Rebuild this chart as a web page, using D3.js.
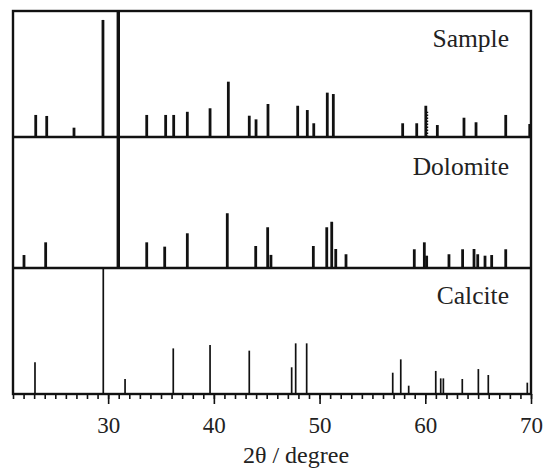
<!DOCTYPE html>
<html>
<head>
<meta charset="utf-8">
<script src="https://cdn.jsdelivr.net/npm/d3@7"></script>
<style>
  html, body { margin: 0; padding: 0; background: #fff; }
  svg { display: block; }
  svg text { font-family: 'Liberation Serif', 'DejaVu Serif', serif; fill: #222; }
</style>
</head>
<body>
<svg id="chart" width="546" height="469" font-family="Liberation Serif"></svg>
<script>
// Stick patterns: 2θ position (degree) and relative intensity (% of panel height)
const samplePos = [23.15, 24.19, 26.77, 29.51, 30.96, 33.65, 35.44, 36.2, 37.49, 39.64, 41.37, 43.35, 43.99, 45.12,
                   47.93, 48.84, 49.45, 50.73, 51.3, 57.86, 59.19, 60.05, 61.14, 63.66, 64.8, 67.61, 69.88];
const sampleInt = [17.5, 16.7, 7.4, 92.9, 100, 17.5, 17.5, 17.5, 20, 22.8, 43.9, 16.9, 14, 26.2,
                   24.8, 21.4, 10.9, 35.2, 34.1, 10.9, 10.9, 24.8, 9.5, 15.3, 11.7, 17.5, 10.3];
// overlapping reflections beside the 60° stick of the sample
const sampleShoulderPos = [60.2];
const sampleShoulderInt = [20];

const dolomitePos = [22.04, 24.09, 30.96, 33.65, 35.35, 37.49, 41.27, 43.96, 45.09, 45.4,
                     49.41, 50.68, 51.15, 51.53, 52.5, 58.96, 59.91, 60.13, 62.24, 63.53, 64.61, 64.96, 65.65, 66.28, 67.61];
const dolomiteInt = [9.9, 19.6, 100, 19.6, 16.3, 26.5, 41.8, 16.8, 31.1, 10,
                     16.8, 31.1, 35.3, 14.5, 10.5, 14.3, 19.6, 9.4, 10.5, 14.3, 14.5, 10.5, 9.4, 9.9, 14.3];

const calcitePos = [23.08, 29.54, 31.6, 36.16, 39.64, 43.35, 47.36, 47.74, 48.78, 56.92, 57.68, 58.43,
                    60.99, 61.46, 61.71, 63.5, 65.02, 65.96, 69.65];
const calciteInt = [25.1, 100, 11.9, 36.2, 38.9, 34.4, 21.2, 40.2, 40.2, 16.9, 27.5, 6.6,
                    18.3, 12.4, 12.4, 11.9, 19.8, 15.1, 9];

const panelNames = ["Sample", "Dolomite", "Calcite"];
const majorTicks = [30, 40, 50, 60, 70];
const xTitle = "2θ / degree";

const svg = d3.select("#chart");
const plotLeft = 13, plotRight = 531, plotTop = 11, plotBottom = 394;
const panelBottoms = [137, 268, plotBottom];
const panelTops = [plotTop, 137, 268];

const x = d3.scaleLinear().domain([21, 70]).range([plotLeft, plotRight]);

svg.append("defs").append("clipPath").attr("id", "plotClip")
  .append("rect").attr("x", plotLeft).attr("y", plotTop)
  .attr("width", plotRight - plotLeft).attr("height", plotBottom - plotTop);

const panels = [
  { pos: samplePos, val: sampleInt, w: 2.8 },
  { pos: dolomitePos, val: dolomiteInt, w: 2.8 },
  { pos: calcitePos, val: calciteInt, w: 1.7 }
];

const plot = svg.append("g").attr("clip-path", "url(#plotClip)");

panels.forEach((p, i) => {
  const y = d3.scaleLinear().domain([0, 100]).range([panelBottoms[i], panelTops[i]]);
  p.y = y;
  const data = p.pos.map((d, k) => ({ t: d, v: p.val[k] }));
  plot.append("g").selectAll("line").data(data).join("line")
    .attr("x1", d => x(d.t)).attr("x2", d => x(d.t))
    .attr("y1", y(0)).attr("y2", d => y(d.v))
    .attr("stroke", "#111")
    .attr("stroke-width", d => d.v >= 100 && i < 2 ? 3.4 : p.w);
});

// shoulder reflections drawn as a broken stick
{
  const y = panels[0].y;
  const data = sampleShoulderPos.map((d, k) => ({ t: d, v: sampleShoulderInt[k] }));
  plot.append("g").selectAll("line").data(data).join("line")
    .attr("x1", d => x(d.t)).attr("x2", d => x(d.t))
    .attr("y1", y(0)).attr("y2", d => y(d.v))
    .attr("stroke", "#111").attr("stroke-width", 1.6)
    .attr("stroke-dasharray", "1.5,1.5");
}

// panel separators and frame
svg.append("g").selectAll("line").data(panelBottoms.slice(0, 2)).join("line")
  .attr("x1", plotLeft).attr("x2", plotRight).attr("y1", d => d).attr("y2", d => d)
  .attr("stroke", "#111").attr("stroke-width", 2.6);

svg.append("rect")
  .attr("x", plotLeft).attr("y", plotTop)
  .attr("width", plotRight - plotLeft).attr("height", plotBottom - plotTop)
  .attr("fill", "none").attr("stroke", "#111").attr("stroke-width", 2.4);

// panel names
svg.append("g").selectAll("text").data(panelNames).join("text")
  .attr("x", 509)
  .attr("y", (d, i) => [46.5, 175, 303.5][i])
  .attr("text-anchor", "end")
  .attr("font-size", 25.5)
  .text(d => d);

// bottom axis: minor ticks every degree, major every ten
const minorAxis = d3.axisBottom(x).tickValues(d3.range(21, 71)).tickSize(5).tickFormat("");
const majorAxis = d3.axisBottom(x).tickValues(majorTicks).tickSize(10).tickPadding(13).tickFormat(d3.format("d"));

const gMinor = svg.append("g").attr("transform", `translate(0,${plotBottom})`).call(minorAxis);
gMinor.select(".domain").remove();
gMinor.selectAll(".tick line").attr("stroke", "#111").attr("stroke-width", 1.6);

const gMajor = svg.append("g").attr("transform", `translate(0,${plotBottom})`).call(majorAxis)
  .attr("font-family", null);
gMajor.select(".domain").remove();
gMajor.selectAll(".tick line").attr("stroke", "#111").attr("stroke-width", 1.6);
gMajor.selectAll(".tick text").attr("font-size", 23).attr("fill", "#222");

svg.append("text")
  .attr("x", 296).attr("y", 463)
  .attr("text-anchor", "middle")
  .attr("font-size", 24)
  .text(xTitle);
</script>
</body>
</html>
